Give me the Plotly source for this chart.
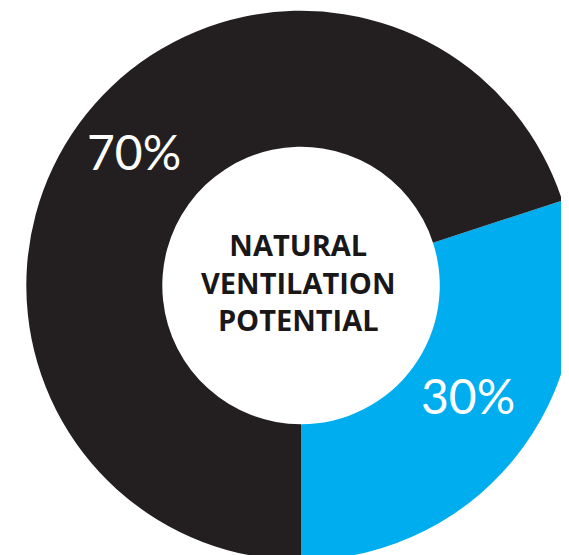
import math
import plotly.graph_objects as go

labels = ["Natural ventilation potential", "Other"]
values = [30, 70]
colors = ["#00aeef", "#231f20"]
center_lines = ["NATURAL", "VENTILATION", "POTENTIAL"]

W, H = 569, 555
dom_x = [0.03, 1.0]
dom_y = [0.005, 0.995]
hole = 0.505
rotation = 72

fig = go.Figure(go.Pie(
    labels=labels,
    values=values,
    hole=hole,
    sort=False,
    direction="clockwise",
    rotation=rotation,
    marker=dict(colors=colors, line=dict(width=0)),
    textinfo="none",
    showlegend=False,
    hoverinfo="label+percent",
    domain=dict(x=dom_x, y=dom_y),
))

# percent labels placed at each slice's mid-angle, mid-ring
cx = (dom_x[0] + dom_x[1]) / 2
cy = (dom_y[0] + dom_y[1]) / 2
radius_px = min((dom_x[1] - dom_x[0]) * W, (dom_y[1] - dom_y[0]) * H) / 2
r_lab = radius_px * (1 + hole) / 2
total = sum(values)
start = rotation
for v in values:
    span = 360 * v / total
    mid = math.radians(start + span / 2)
    start += span
    fig.add_annotation(
        x=cx + r_lab * math.sin(mid) / W,
        y=cy + r_lab * math.cos(mid) / H,
        xref="paper", yref="paper",
        xanchor="center", yanchor="middle",
        yshift=12,
        text=f"{round(100 * v / total)}%",
        showarrow=False,
        font=dict(family="Lato", size=48, color="white"),
    )

fig.add_annotation(
    x=cx, y=cy, xref="paper", yref="paper",
    xanchor="center", yanchor="middle",
    text="<br>".join(center_lines),
    showarrow=False, yshift=4, xshift=-3,
    font=dict(family="Open Sans", size=29, color="#1a1718", weight="bold"),
    align="center",
)

fig.update_layout(
    width=W, height=H,
    margin=dict(l=0, r=0, t=0, b=0),
    paper_bgcolor="white",
    plot_bgcolor="white",
)

fig.write_html("out.html")
